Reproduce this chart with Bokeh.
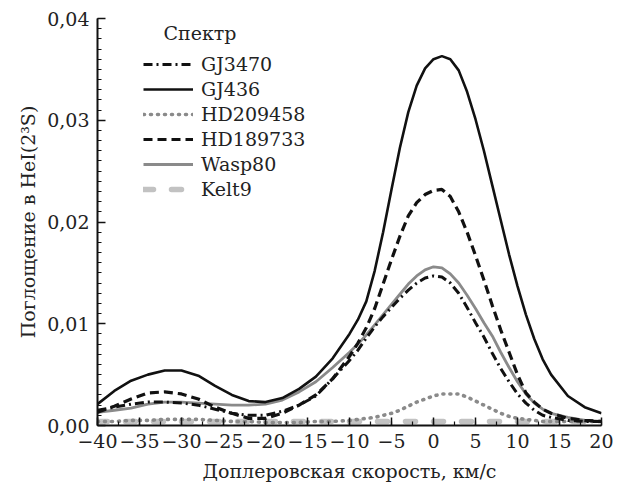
from bokeh.plotting import figure
from bokeh.models import Legend, LegendItem, FixedTicker, Label
from bokeh.embed import file_html
from bokeh.resources import INLINE

# ---- data ----
velocity = [-40, -38, -36, -34, -32, -30, -28, -26, -24, -22, -20, -18, -16, -14, -12,
            -10, -9, -8, -7, -6, -5, -4, -3, -2, -1, 0, 1, 2, 3, 4, 5, 6, 7, 8, 9,
            10, 11, 12, 13, 14, 16, 18, 20]

gj3470 = [0.0015, 0.0018, 0.0021, 0.0023, 0.0023, 0.0022, 0.0020, 0.0016, 0.0012, 0.0010,
          0.0010, 0.0014, 0.0020, 0.0029, 0.0046,
          0.0064, 0.0074, 0.0086, 0.0097, 0.0107, 0.0116, 0.0125, 0.0133, 0.0140, 0.0145,
          0.0147, 0.0146, 0.0140, 0.0130, 0.0116, 0.0101, 0.0087, 0.0071, 0.0056, 0.0043,
          0.0031, 0.0022, 0.0015, 0.0010, 0.0008, 0.0005, 0.0004, 0.0004]

gj436 = [0.0021, 0.0034, 0.0044, 0.0050, 0.0054, 0.0054, 0.0049, 0.0039, 0.0030, 0.0024,
         0.0023, 0.0027, 0.0036, 0.0048, 0.0066,
         0.0090, 0.0104, 0.0122, 0.0152, 0.0190, 0.0232, 0.0273, 0.0308, 0.0334, 0.0351,
         0.0360, 0.0363, 0.0360, 0.0349, 0.0328, 0.0301, 0.0270, 0.0236, 0.0202, 0.0168,
         0.0137, 0.0109, 0.0085, 0.0065, 0.0050, 0.0029, 0.0018, 0.0012]

hd209458 = [0.0004, 0.0004, 0.0005, 0.0005, 0.0006, 0.0006, 0.0006, 0.0005, 0.0004, 0.0004,
            0.0003, 0.0003, 0.0003, 0.0004, 0.0004,
            0.0005, 0.0006, 0.0007, 0.0008, 0.0010, 0.0012, 0.0015, 0.0019, 0.0023, 0.0026,
            0.0029, 0.0031, 0.0031, 0.0031, 0.0028, 0.0024, 0.0020, 0.0016, 0.0012, 0.0009,
            0.0007, 0.0006, 0.0005, 0.0004, 0.0004, 0.0004, 0.0004, 0.0004]

hd189733 = [0.0013, 0.0019, 0.0026, 0.0032, 0.0033, 0.0031, 0.0026, 0.0018, 0.0012, 0.0007,
            0.0007, 0.0012, 0.0020, 0.0030, 0.0046,
            0.0068, 0.0081, 0.0096, 0.0115, 0.0139, 0.0163, 0.0186, 0.0206, 0.0219, 0.0227,
            0.0231, 0.0232, 0.0225, 0.0210, 0.0190, 0.0167, 0.0143, 0.0118, 0.0094, 0.0072,
            0.0050, 0.0032, 0.0023, 0.0016, 0.0012, 0.0007, 0.0005, 0.0004]

wasp80 = [0.0013, 0.0015, 0.0017, 0.0021, 0.0023, 0.0023, 0.0022, 0.0021, 0.0020, 0.0020,
          0.0021, 0.0025, 0.0033, 0.0043, 0.0057,
          0.0072, 0.0080, 0.0089, 0.0099, 0.0109, 0.0119, 0.0129, 0.0139, 0.0147, 0.0153,
          0.0156, 0.0155, 0.0149, 0.0140, 0.0128, 0.0115, 0.0101, 0.0088, 0.0072, 0.0057,
          0.0043, 0.0031, 0.0022, 0.0016, 0.0012, 0.0008, 0.0005, 0.0004]

kelt9 = [0.0004, 0.0004, 0.0004, 0.0004, 0.0004, 0.0004, 0.0004, 0.0004, 0.0004, 0.0004,
         0.0004, 0.0004, 0.0004, 0.0004, 0.0004,
         0.0004, 0.0004, 0.0004, 0.0004, 0.0004, 0.0004, 0.0004, 0.0004, 0.0004, 0.0004,
         0.0004, 0.0004, 0.0004, 0.0004, 0.0004, 0.0004, 0.0004, 0.0004, 0.0004, 0.0004,
         0.0004, 0.0004, 0.0004, 0.0004, 0.0004, 0.0004, 0.0004, 0.0004]

series_names = ["GJ3470", "GJ436", "HD209458", "HD189733", "Wasp80", "Kelt9"]

x_ticks = [-40, -35, -30, -25, -20, -15, -10, -5, 0, 5, 10, 15, 20]
x_tick_labels = ["\u221240", "\u221235", "\u221230", "\u221225", "\u221220", "\u221215",
                 "\u221210", "\u22125", "0", "5", "10", "15", "20"]
y_ticks = [0.0, 0.01, 0.02, 0.03, 0.04]
y_tick_labels = ["0,00", "0,01", "0,02", "0,03", "0,04"]

FONT = "DejaVu Serif"
BLACK = "#111111"
GRAY = "#8a8a8a"
LIGHT = "#c2c2c2"

p = figure(width=613, height=487, x_range=(-40, 20), y_range=(0, 0.04),
           output_backend="svg", toolbar_location=None,
           min_border_left=97, min_border_right=12, min_border_top=18, min_border_bottom=62)
p.outline_line_color = None
p.grid.visible = False
p.background_fill_color = "white"
p.border_fill_color = "white"

# lines
styles = [
    dict(line_color=BLACK, line_width=3, line_dash="9 4 2 4"),
    dict(line_color=BLACK, line_width=2.6),
    dict(line_color=GRAY, line_width=3.6, line_dash="1 6", line_cap="round"),
    dict(line_color=BLACK, line_width=3.2, line_dash="9 5"),
    dict(line_color=GRAY, line_width=2.8),
    dict(line_color=LIGHT, line_width=5.5, line_dash="10 18", line_cap="round"),
]
data = [gj3470, gj436, hd209458, hd189733, wasp80, kelt9]
order = [5, 2, 4, 0, 3, 1]  # drawing order
renderers = {}
for i in order:
    renderers[i] = p.line(velocity, data[i], **styles[i])

# axes
for ax in (p.xaxis[0], p.yaxis[0]):
    ax.axis_line_color = BLACK
    ax.axis_line_width = 2
    ax.major_tick_line_color = BLACK
    ax.minor_tick_line_color = BLACK
    ax.major_tick_line_width = 1.5
    ax.minor_tick_line_width = 1.2
    ax.major_tick_in = 8
    ax.major_tick_out = 0
    ax.minor_tick_in = 4
    ax.minor_tick_out = 0
    ax.major_label_text_font = FONT
    ax.major_label_text_font_size = "19px"
    ax.major_label_text_color = "#222222"
    ax.axis_label_text_font = FONT
    ax.axis_label_text_font_size = "19px"
    ax.axis_label_text_font_style = "normal"
    ax.axis_label_text_color = "#222222"

p.xaxis.ticker = FixedTicker(ticks=x_ticks, minor_ticks=[-40 + 2.5 * k for k in range(25)])
p.yaxis.ticker = FixedTicker(ticks=y_ticks, minor_ticks=[k * 0.001 for k in range(41)])
p.xaxis.major_label_overrides = dict(zip(x_ticks, x_tick_labels))
p.yaxis.major_label_overrides = dict(zip(y_ticks, y_tick_labels))
p.xaxis.major_label_standoff = 8
p.yaxis.major_label_standoff = 8
p.xaxis.axis_label = "Доплеровская скорость, км/с"
p.yaxis.axis_label = "Поглощение в HeI(2³S)"
p.xaxis.axis_label_standoff = 9
p.yaxis.axis_label_standoff = 5

# legend
legend = Legend(
    items=[LegendItem(label=series_names[i], renderers=[renderers[i]]) for i in range(6)],
    location=(46, 225), border_line_color=None, background_fill_alpha=0,
    padding=0, margin=0, glyph_width=50, glyph_height=22, label_height=22,
    spacing=3, label_standoff=8, label_text_font=FONT, label_text_font_size="19px",
    label_text_color="#222222")
p.add_layout(legend)

title = Label(x=66, y=393, x_units="screen", y_units="screen", text="Спектр",
              text_font=FONT, text_font_size="19px", text_color="#222222",
              text_baseline="middle")
p.add_layout(title)

open("out.html", "w").write(file_html(p, INLINE))
